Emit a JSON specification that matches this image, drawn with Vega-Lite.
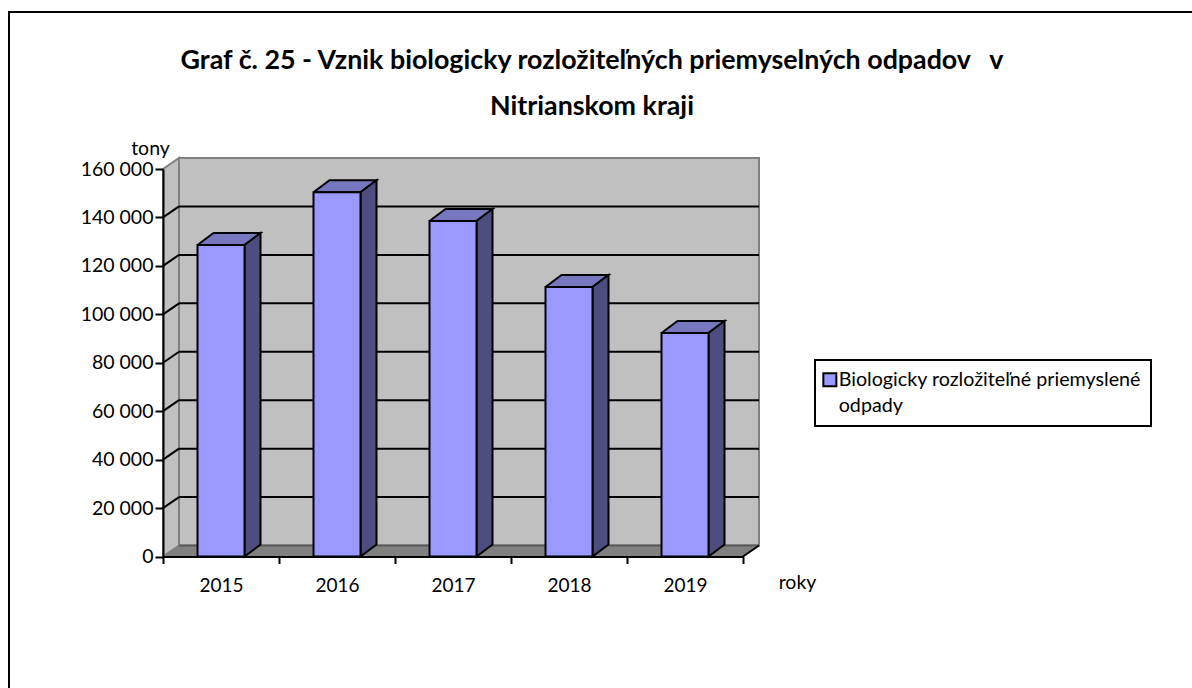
{
"$schema":"https://vega.github.io/schema/vega-lite/v6.json",
"width":580,"height":387.5,
"autosize":"none",
"padding":{"left":163,"top":169,"right":449,"bottom":131.5},
"background":"white",
"config":{"font":"Lato","view":{"stroke":null},"legend":{"strokeWidth":2}},
"title":{"text":["Graf č. 25 - Vznik biologicky rozložiteľných priemyselných odpadov \u00a0 v","Nitrianskom kraji"],"anchor":"middle","dx":139,"dy":110,"offset":0,"font":"Lato","fontSize":26.8,"fontWeight":"bold","color":"#000000","lineHeight":46},
"datasets":{
"roky":[
{"rok":"2015","tony":128600,"seria":"Biologicky rozložiteľné priemyslené odpady"},
{"rok":"2016","tony":150400,"seria":"Biologicky rozložiteľné priemyslené odpady"},
{"rok":"2017","tony":138500,"seria":"Biologicky rozložiteľné priemyslené odpady"},
{"rok":"2018","tony":111300,"seria":"Biologicky rozložiteľné priemyslené odpady"},
{"rok":"2019","tony":92300,"seria":"Biologicky rozložiteľné priemyslené odpady"}],
"mriezka":[{"rok":"2015","g":20000},{"rok":"2015","g":40000},{"rok":"2015","g":60000},{"rok":"2015","g":80000},{"rok":"2015","g":100000},{"rok":"2015","g":120000},{"rok":"2015","g":140000}]
},
"data":{"name":"roky"},
"encoding":{
"x":{"field":"rok","type":"nominal","scale":{"domain":["2015","2016","2017","2018","2019"],"paddingInner":0,"paddingOuter":0},"axis":{"orient":"bottom","zindex":1,"title":"roky","titleX":634,"titleY":17,"titleFont":"Lato","titleFontSize":19.5,"titleFontWeight":"normal","titleColor":"black","labelFont":"Lato","labelFontSize":19,"labelColor":"black","labelAngle":0,"labelPadding":13,"tickBand":"extent","tickColor":"black","tickWidth":2,"tickSize":7,"domainColor":"black","domainWidth":2,"grid":false}}
},
"layer":[
{"transform":[{"filter":"datum.rok=='2015'"}],"mark":{"type":"rect","fill":null,"stroke":"black","strokeWidth":2,"clip":false},"encoding":{"x":{"value":-154},"x2":{"value":1400},"y":{"value":-157},"y2":{"value":900}}},
{"transform":[{"filter":"datum.rok=='2015'"}],"mark":{"type":"rect","fill":"#C0C0C0","stroke":"#808080","strokeWidth":2,"xOffset":16,"x2Offset":16,"yOffset":-11,"y2Offset":-11},"encoding":{"x":{"value":0},"x2":{"value":580},"y":{"value":0},"y2":{"value":387.5}}},
{"transform":[{"filter":"datum.rok=='2015'"},{"fold":["v1","v2","v3","v4","v5"]}],"mark":{"type":"line","filled":true,"fill":"#C0C0C0","stroke":"#808080","strokeWidth":2,"xOffset":{"expr":"{v1:-58,v2:-42,v3:-42,v4:-58,v5:-58}[datum.key]"},"yOffset":{"expr":"{v1:0,v2:-11,v3:376.5,v4:387.5,v5:0}[datum.key]"}},"encoding":{"order":{"field":"key"},"y":{"datum":160000,"type":"quantitative","scale":{"domain":[0,160000],"nice":false},"axis":{"orient":"left","zindex":1,"title":"tony","titleAngle":0,"titleX":-13,"titleY":-11,"titleFont":"Lato","titleFontSize":19.5,"titleFontWeight":"normal","titleColor":"black","values":[0,20000,40000,60000,80000,100000,120000,140000,160000],"labelExpr":"replace(format(datum.value,','),',',' ')","labelFont":"Lato","labelFontSize":19.5,"labelColor":"black","labelPadding":2,"tickColor":"black","tickWidth":2,"tickSize":8,"domainColor":"black","domainWidth":2,"grid":false}}}},
{"transform":[{"filter":"datum.rok=='2015'"},{"fold":["v1","v2","v3","v4","v5"]}],"mark":{"type":"line","filled":true,"fill":"#808080","stroke":"#808080","strokeWidth":1,"xOffset":{"expr":"{v1:-58,v2:522,v3:538,v4:-42,v5:-58}[datum.key]"},"yOffset":{"expr":"{v1:0,v2:0,v3:-11,v4:-11,v5:0}[datum.key]"}},"encoding":{"order":{"field":"key"},"y":{"datum":0,"type":"quantitative"}}},
{"transform":[{"filter":"datum.rok=='2015'"},{"fold":["f2","f3"]}],"mark":{"type":"line","stroke":"#5A5A5A","strokeWidth":2,"xOffset":{"expr":"{f2:-42,f3:538}[datum.key]"},"yOffset":-11},"encoding":{"order":{"field":"key"},"y":{"datum":0,"type":"quantitative"}}},
{"transform":[{"filter":"datum.rok=='2015'"},{"fold":["r1","r2"]}],"mark":{"type":"line","stroke":"black","strokeWidth":2,"xOffset":{"expr":"{r1:522,r2:538}[datum.key]"},"yOffset":{"expr":"{r1:0,r2:-11}[datum.key]"}},"encoding":{"order":{"field":"key"},"y":{"datum":0,"type":"quantitative"}}},
{"data":{"name":"mriezka"},"mark":{"type":"rule","stroke":"black","strokeWidth":2,"xOffset":16,"x2Offset":16,"yOffset":-11},"encoding":{"x":{"value":0},"x2":{"value":580},"y":{"field":"g","type":"quantitative"}}},
{"data":{"name":"mriezka"},"transform":[{"fold":["d1","d2"]}],"mark":{"type":"line","stroke":"black","strokeWidth":2,"xOffset":{"expr":"{d1:-58,d2:-42}[datum.key]"},"yOffset":{"expr":"{d1:0,d2:-11}[datum.key]"}},"encoding":{"order":{"field":"key"},"detail":{"field":"g"},"y":{"field":"g","type":"quantitative"}}},
{"transform":[{"fold":["v1","v2","v3","v4","v5"]}],"mark":{"type":"line","filled":true,"fill":"#7777C0","stroke":"black","strokeWidth":2,"xOffset":{"expr":"{v1:-23.5,v2:23.5,v3:39.5,v4:-7.5,v5:-23.5}[datum.key]"},"yOffset":{"expr":"{v1:0,v2:0,v3:-12,v4:-12,v5:0}[datum.key]"}},"encoding":{"order":{"field":"key"},"detail":{"field":"rok"},"y":{"field":"tony","type":"quantitative"}}},
{"transform":[{"fold":["v1","v2","v3","v4","v5"]}],"mark":{"type":"line","filled":true,"fill":"#4D4D80","stroke":"black","strokeWidth":2,"xOffset":{"expr":"{v1:23.5,v2:39.5,v3:39.5,v4:23.5,v5:23.5}[datum.key]"},"yOffset":{"expr":"{v1:0,v2:-12,v3:scale('y',0)-scale('y',datum.tony)-12,v4:scale('y',0)-scale('y',datum.tony),v5:0}[datum.key]"}},"encoding":{"order":{"field":"key"},"detail":{"field":"rok"},"y":{"field":"tony","type":"quantitative"}}},
{"mark":{"type":"bar","width":47,"stroke":"black","strokeWidth":2},"encoding":{"y":{"field":"tony","type":"quantitative"},"color":{"field":"seria","type":"nominal","scale":{"range":["#9999FF"]},"legend":{"orient":"none","legendX":652,"legendY":191,"title":null,"strokeColor":"black","fillColor":"white","padding":10,"symbolType":"square","symbolSize":170,"symbolOffset":-5,"symbolStrokeColor":"black","symbolStrokeWidth":2,"labelFont":"Lato","labelFontSize":19.7,"labelOffset":-1,"labelColor":"black","labelLimit":400,"labelExpr":"['Biologicky rozložiteľné priemyslené','odpady']","encode":{"labels":{"update":{"lineHeight":{"value":26}}}}}}}}
]
}
